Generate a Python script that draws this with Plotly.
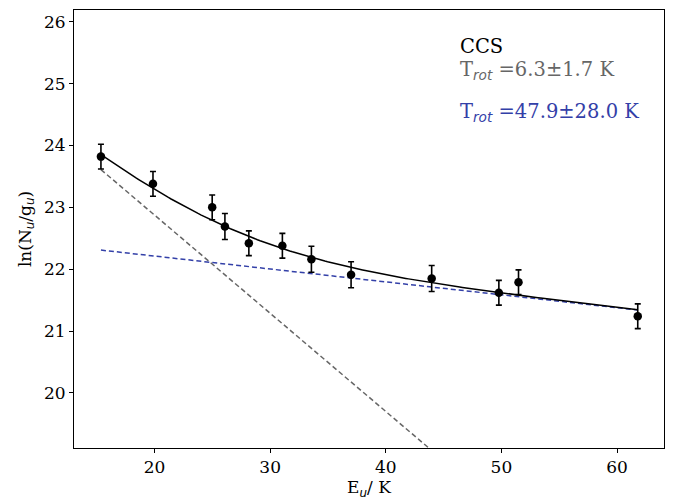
import numpy as np
import plotly.graph_objects as go

# Data points
E_up = [15.37, 19.87, 24.99, 26.09, 28.16, 31.06, 33.57, 37.00, 43.97, 49.78, 51.48, 61.79]
ln_Ng = [23.82, 23.38, 23.00, 22.69, 22.42, 22.38, 22.16, 21.91, 21.85, 21.62, 21.79, 21.24]
err = [0.20, 0.20, 0.20, 0.21, 0.20, 0.20, 0.21, 0.21, 0.21, 0.20, 0.20, 0.20]

# Two-component rotational-diagram fit parameters
T1, a1 = 6.3, 26.05
T2, a2 = 47.9, 22.63

SERIF = "DejaVu Serif"
GRAY = "#666666"
BLUE = "#3340a8"

x_fit = np.linspace(min(E_up), max(E_up), 200)
l1 = a1 - x_fit / T1
l2 = a2 - x_fit / T2
tot = np.log(np.exp(l1) + np.exp(l2))

fig = go.Figure()
fig.add_trace(go.Scatter(x=x_fit, y=l1, mode="lines",
                         line=dict(color=GRAY, width=1.5, dash="5px,3px"), showlegend=False))
fig.add_trace(go.Scatter(x=x_fit, y=l2, mode="lines",
                         line=dict(color=BLUE, width=1.5, dash="5px,3px"), showlegend=False))
fig.add_trace(go.Scatter(x=x_fit, y=tot, mode="lines",
                         line=dict(color="black", width=1.5), showlegend=False))
fig.add_trace(go.Scatter(x=E_up, y=ln_Ng, mode="markers",
                         marker=dict(color="black", size=8.5),
                         error_y=dict(type="data", array=err, color="black", thickness=1.6, width=3),
                         showlegend=False))

axis_common = dict(showline=True, linecolor="black", linewidth=1, mirror=True,
                   ticks="outside", ticklen=4, tickwidth=1, tickcolor="black",
                   showgrid=False, zeroline=False,
                   tickfont=dict(family=SERIF, size=17, color="black"))

fig.update_xaxes(range=[13.04, 64.06], tickvals=[20, 30, 40, 50, 60],
                 title=dict(text="E<sub><i style='font-family:DejaVu Sans'>u</i></sub>/ K",
                            font=dict(family=SERIF, size=17, color="black"), standoff=4),
                 **axis_common)
fig.update_yaxes(range=[19.11, 26.19], tickvals=[20, 21, 22, 23, 24, 25, 26],
                 title=dict(text="ln(N<sub><i style='font-family:DejaVu Sans'>u</i></sub>/g<sub><i style='font-family:DejaVu Sans'>u</i></sub>)",
                            font=dict(family=SERIF, size=17, color="black"), standoff=8),
                 **axis_common)

ann_font = dict(family=SERIF, size=19.5)
fig.add_annotation(x=0.651, y=0.916, xref="paper", yref="paper", xanchor="left", yanchor="middle",
                   text="CCS", showarrow=False, font=dict(color="black", **ann_font))
fig.add_annotation(x=0.651, y=0.863, xref="paper", yref="paper", xanchor="left", yanchor="middle",
                   text="T<sub><i style='font-family:DejaVu Sans'>rot</i></sub> =6.3±1.7 K",
                   showarrow=False, font=dict(color=GRAY, **ann_font))
fig.add_annotation(x=0.651, y=0.765, xref="paper", yref="paper", xanchor="left", yanchor="middle",
                   text="T<sub><i style='font-family:DejaVu Sans'>rot</i></sub> =47.9±28.0 K",
                   showarrow=False, font=dict(color=BLUE, **ann_font))

fig.update_layout(width=674, height=502,
                  margin=dict(l=74, r=10, t=9, b=53),
                  plot_bgcolor="white", paper_bgcolor="white")

fig.write_html("out.html", config={"displayModeBar": False},
               post_script="document.body.style.margin='0';document.body.style.padding='0';")
